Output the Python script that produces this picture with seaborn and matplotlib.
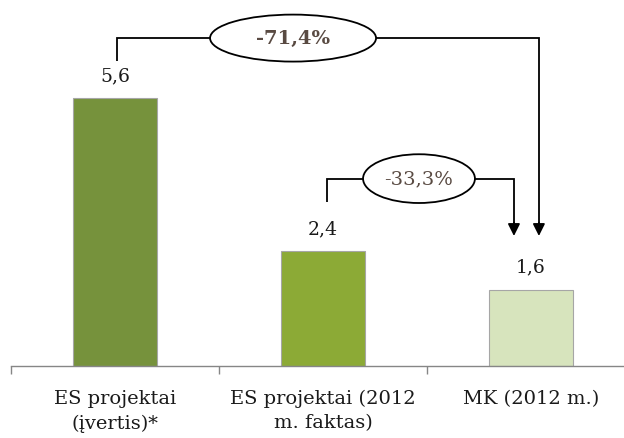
import matplotlib
matplotlib.use("Agg")
import matplotlib.pyplot as plt
import seaborn as sns
import pandas as pd
from matplotlib.patches import Ellipse
import matplotlib.transforms as mtransforms

categories = ["ES projektai\n(įvertis)*", "ES projektai (2012\nm. faktas)", "MK (2012 m.)"]
values = [5.6, 2.4, 1.6]
value_labels = ["5,6", "2,4", "1,6"]
colors = ["#76923C", "#8CAA36", "#D7E4BD"]
change_labels = ["-71,4%", "-33,3%"]

sns.set_theme(style="white")
plt.rcParams['font.family'] = ['DejaVu Serif']

fig = plt.figure(figsize=(6.24, 4.39), dpi=100)
ax = fig.add_axes([11/624, 72/439, 613/624, 367/439])

df = pd.DataFrame({"cat": categories, "val": values})
sns.barplot(data=df, x="cat", y="val", hue="cat", palette=colors, width=0.404,
            edgecolor="#A6A6A6", linewidth=0.8, legend=False, ax=ax, saturation=1)

ax.set_xlim(-0.5, -0.5 + 613/208)
ax.set_ylim(0, 367/47.8)
for s in ["top", "right", "left"]:
    ax.spines[s].set_visible(False)
ax.spines["bottom"].set_color("#868686")
ax.spines["bottom"].set_linewidth(1.0)
ax.set_yticks([])
ax.set_xlabel("")
ax.set_ylabel("")
ax.set_xticks([0, 1, 2])
ax.set_xticklabels([])
ax.tick_params(axis="x", which="major", length=0)
ax.set_xticks([-0.5, 0.5, 1.5], minor=True)
ax.tick_params(axis="x", which="minor", length=6, color="#868686", width=1, bottom=True, direction="out")

# category labels
trans = mtransforms.blended_transform_factory(ax.transData, ax.transAxes)
for i, c in enumerate(categories):
    ax.text(i, -23/367, c, transform=trans, ha="center", va="top",
            fontsize=14, color="#1a1a1a", linespacing=1.45)

# value labels
for i, (v, lab) in enumerate(zip(values, value_labels)):
    ax.text(i, v + 0.48, lab, ha="center", va="center", fontsize=13.5, color="#1a1a1a")

lw = 1.3
# bracket 1: bar 0 -> bar 2
ax.plot([0.01, 0.01, 2.038, 2.038], [6.38, 6.86, 6.86, 2.95], color="black", lw=lw,
        solid_capstyle="butt", solid_joinstyle="miter", zorder=3)
ax.annotate("", xy=(2.038, 2.72), xytext=(2.038, 3.0),
            arrowprops=dict(arrowstyle="-|>,head_length=0.6,head_width=0.3", color="black", lw=lw,
                            shrinkA=0, shrinkB=0), zorder=3)
e1 = Ellipse((0.856, 6.86), 0.798, 0.983, facecolor="white", edgecolor="black", lw=lw, zorder=4)
ax.add_patch(e1)
ax.text(0.856, 6.86, change_labels[0], ha="center", va="center", fontsize=14,
        fontweight="bold", color="#594A42", zorder=5)

# bracket 2: bar 1 -> bar 2
ax.plot([1.02, 1.02, 1.918, 1.918], [3.43, 3.92, 3.92, 2.95], color="black", lw=lw,
        solid_capstyle="butt", solid_joinstyle="miter", zorder=3)
ax.annotate("", xy=(1.918, 2.72), xytext=(1.918, 3.0),
            arrowprops=dict(arrowstyle="-|>,head_length=0.6,head_width=0.3", color="black", lw=lw,
                            shrinkA=0, shrinkB=0), zorder=3)
e2 = Ellipse((1.4615, 3.92), 0.538, 1.02, facecolor="white", edgecolor="black", lw=lw, zorder=4)
ax.add_patch(e2)
ax.text(1.4615, 3.92, change_labels[1], ha="center", va="center", fontsize=14,
        color="#594A42", zorder=5)

fig.savefig("out.png", dpi=100)
